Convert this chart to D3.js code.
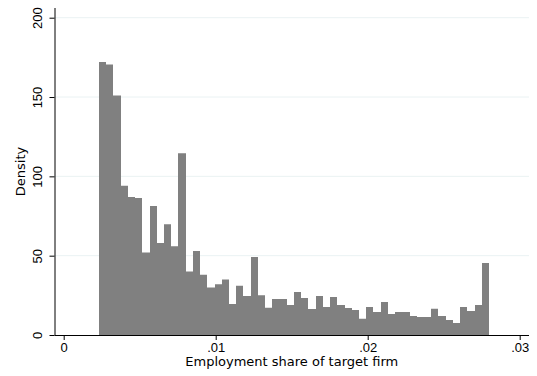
<!DOCTYPE html>
<html>
<head>
<meta charset="utf-8">
<script src="https://cdn.jsdelivr.net/npm/d3@7"></script>
<style>
  html, body { margin: 0; padding: 0; background: #fff; }
  svg { display: block; font-family: "DejaVu Sans", sans-serif; }
</style>
</head>
<body>
<div id="chart"></div>
<script>
// histogram of employment share of target firm (density)
const binStart = 0.00232;
const binEnd = 0.02798;
const densities = [
  172, 170.5, 151, 94, 87, 86.3, 52, 81.3, 58, 69.8,
  56, 114.5, 40, 53, 38, 30, 32, 35, 19.5, 31,
  24.6, 49.2, 25, 17.2, 22.7, 22.7, 18.9, 27.1, 23.3, 16.4,
  24.6, 17.6, 23.9, 18.9, 17, 15.8, 10.3, 17.6, 14.5, 20.8,
  13.2, 14.5, 14.5, 12, 11.3, 11.3, 16.6, 12, 9.5, 7.6,
  17.6, 15.1, 18.9, 45.4
];
const xTicks = [0, 0.01, 0.02, 0.03];
const xTickLabels = ['0', '.01', '.02', '.03'];
const yTicks = [0, 50, 100, 150, 200];
const gridTicks = [50, 100, 150, 200];

const W = 537, H = 376;
const plot = { l: 54.5, r: 529, t: 8, b: 335 };

const binW = (binEnd - binStart) / densities.length;
const bins = densities.map((d, i) => ({ x0: binStart + i * binW, x1: binStart + (i + 1) * binW, v: d }));

const x = d3.scaleLinear().domain([0, 0.03]).range([63.7, 519.7]);
const y = d3.scaleLinear().domain([0, 200]).range([plot.b, 17.7]);

const svg = d3.select('#chart').append('svg')
  .attr('width', W)
  .attr('height', H);

// grid
svg.append('g').selectAll('line')
  .data(gridTicks)
  .join('line')
  .attr('x1', plot.l).attr('x2', plot.r)
  .attr('y1', d => y(d)).attr('y2', d => y(d))
  .attr('stroke', '#eaf2f3')
  .attr('stroke-width', 1);

// bars - drawn as one path so no seams between neighbours
const barPath = d3.path();
bins.forEach((d, i) => {
  const x0 = Math.round(x(d.x0));
  const x1 = Math.round(x(d.x1));
  if (i === 0) barPath.moveTo(x0, y(0));
  barPath.lineTo(x0, y(d.v));
  barPath.lineTo(x1, y(d.v));
});
barPath.lineTo(Math.round(x(binEnd)), y(0));
barPath.closePath();
svg.append('path')
  .attr('d', barPath.toString())
  .attr('fill', '#808080');

// axes
const xAxis = svg.append('g')
  .attr('transform', `translate(0,${plot.b})`)
  .call(d3.axisBottom(x).tickValues(xTicks).tickFormat((d, i) => xTickLabels[i]).tickSize(5).tickSizeOuter(0));
xAxis.select('.domain').attr('d', `M${plot.l},0.5H${plot.r}`).attr('stroke', '#000');
xAxis.selectAll('.tick line').attr('stroke', '#000');
xAxis.selectAll('text').attr('font-size', 13).attr('fill', '#000').attr('dy', '0.85em').attr('y', 6);

const yAxis = svg.append('g')
  .attr('transform', `translate(${plot.l},0)`)
  .call(d3.axisLeft(y).tickValues(yTicks).tickSize(5).tickSizeOuter(0));
yAxis.select('.domain').attr('d', `M0.5,${plot.t}V${plot.b}`).attr('stroke', '#000');
yAxis.selectAll('.tick line').attr('stroke', '#000');
yAxis.selectAll('text')
  .attr('font-size', 13)
  .attr('fill', '#000')
  .attr('x', null).attr('dy', null)
  .attr('text-anchor', 'middle')
  .attr('transform', 'translate(-13,0) rotate(-90)')
  .attr('y', 0);

// axis titles
svg.append('text')
  .attr('x', (plot.l + plot.r) / 2)
  .attr('y', 366)
  .attr('text-anchor', 'middle')
  .attr('font-size', 13)
  .text('Employment share of target firm');

svg.append('text')
  .attr('transform', `translate(25,${(plot.t + plot.b) / 2}) rotate(-90)`)
  .attr('text-anchor', 'middle')
  .attr('font-size', 13)
  .text('Density');
</script>
</body>
</html>
